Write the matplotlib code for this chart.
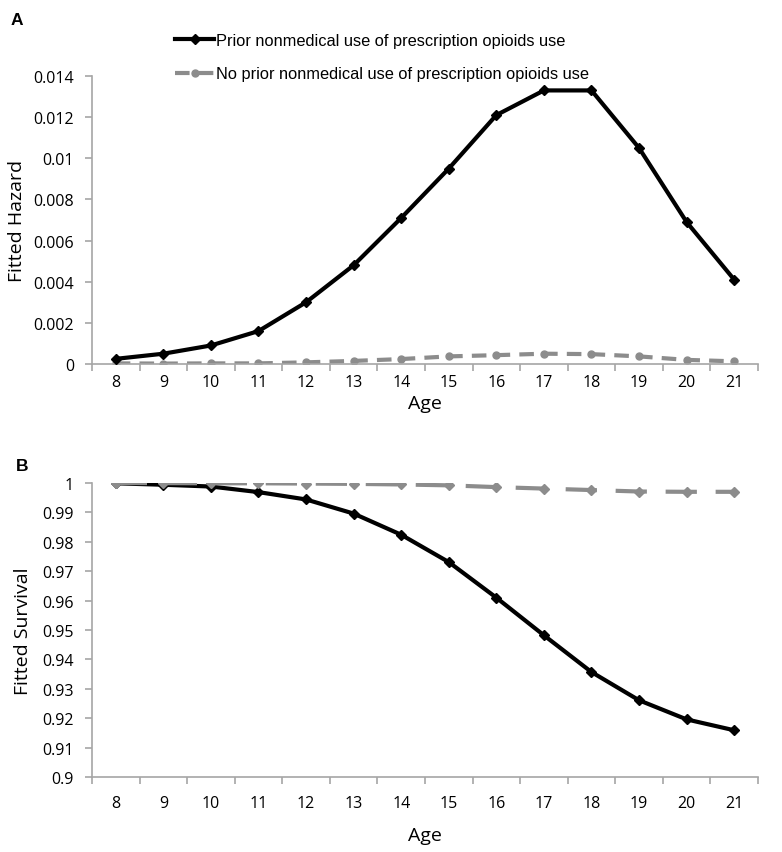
import numpy as np
import matplotlib.pyplot as plt
from matplotlib.ticker import FixedLocator, FuncFormatter

ages = [8, 9, 10, 11, 12, 13, 14, 15, 16, 17, 18, 19, 20, 21]

hazard_prior = [0.00025, 0.0005, 0.0009, 0.0016, 0.003, 0.0048, 0.0071,
                0.0095, 0.0121, 0.0133, 0.0133, 0.0105, 0.0069, 0.0041]
hazard_noprior = [0.00003, 0.00002, 0.00003, 0.00003, 0.00008, 0.00015, 0.00024,
                  0.00037, 0.00043, 0.0005, 0.00048, 0.00037, 0.0002, 0.00013]

surv_prior = [0.9999, 0.9994, 0.9988, 0.9969, 0.9944, 0.9896, 0.9824,
              0.9731, 0.9610, 0.9482, 0.9357, 0.9261, 0.9196, 0.9159]
surv_noprior = [1.0, 0.99995, 0.9999, 0.9999, 0.9998, 0.9997, 0.9995,
                0.9992, 0.9986, 0.9981, 0.9976, 0.9971, 0.9970, 0.9970]

label_prior = 'Prior nonmedical use of prescription opioids use'
label_noprior = 'No prior nonmedical use of prescription opioids use'

hazard_ticks = [0, 0.002, 0.004, 0.006, 0.008, 0.01, 0.012, 0.014]
surv_ticks = [0.9, 0.91, 0.92, 0.93, 0.94, 0.95, 0.96, 0.97, 0.98, 0.99, 1]

tick_font = ['Open Sans', 'DejaVu Sans']
axis_gray = '#a6a6a6'
dash_gray = '#8c8c8c'

fig = plt.figure(figsize=(7.82, 8.53), dpi=100)
axA = fig.add_axes([0.1176, 0.5721, 0.8517, 0.3376])
axB = fig.add_axes([0.1176, 0.0879, 0.8517, 0.3447])

x = np.arange(len(ages))


def style(ax, yticks, ylabel, fmt, xpad, xlab_y, ylab_x):
    ax.set_xlim(-0.5, len(ages) - 0.5)
    ax.set_ylim(yticks[0], yticks[-1])
    for s in ['top', 'right']:
        ax.spines[s].set_visible(False)
    for s in ['left', 'bottom']:
        ax.spines[s].set_color(axis_gray)
        ax.spines[s].set_linewidth(1.2)
    ax.set_xticks(x)
    ax.set_xticklabels([str(a) for a in ages], fontfamily=tick_font, fontsize=11.5)
    ax.xaxis.set_minor_locator(FixedLocator(np.arange(-0.5, len(ages), 1.0)))
    ax.tick_params(axis='x', which='major', length=0, pad=xpad)
    ax.tick_params(axis='x', which='minor', length=5, color=axis_gray, width=1.2)
    ax.set_yticks(yticks)
    ax.yaxis.set_major_formatter(FuncFormatter(fmt))
    ax.tick_params(axis='y', length=5, color=axis_gray, width=1.2, pad=8)
    for t in ax.get_yticklabels():
        t.set_fontfamily(tick_font)
        t.set_fontsize(11.5)
    ax.set_xlabel('Age', fontfamily=tick_font, fontsize=14)
    ax.xaxis.set_label_coords(0.5, xlab_y)
    ax.set_ylabel(ylabel, fontfamily=tick_font, fontsize=14, va='center')
    ax.yaxis.set_label_coords(ylab_x, 0.5)


def fmt_gen(v, pos):
    return ('%.3f' % v).rstrip('0').rstrip('.') if v != 0 else '0'


def fmt_surv(v, pos):
    return ('%.2f' % v).rstrip('0').rstrip('.')


la, = axA.plot(x, hazard_prior, color='black', lw=3, marker='D', ms=5,
               label=label_prior, zorder=3)
lb, = axA.plot(x, hazard_noprior, color=dash_gray, lw=3, marker='o', ms=5,
               dashes=(3.5, 2.2), label=label_noprior, zorder=2)
style(axA, hazard_ticks, 'Fitted Hazard', fmt_gen, 7.5, -0.104, -0.112)

axB.plot(x, surv_prior, color='black', lw=3, marker='D', ms=5, zorder=2)
axB.plot(x, surv_noprior, color=dash_gray, lw=3, marker='D', ms=5,
         dashes=(7.5, 4.5), zorder=3)
style(axB, surv_ticks, 'Fitted Survival', fmt_surv, 13, -0.167, -0.103)

fig.legend(handles=[la, lb], loc='upper left', bbox_to_anchor=(0.205, 0.978),
           frameon=False, handlelength=2.4, handletextpad=0.1, labelspacing=1.15,
           prop={'family': ['Liberation Sans Narrow', 'Liberation Sans'], 'size': 11.8})

fig.text(0.014, 0.985, 'A', fontsize=12.5, fontweight='bold',
         fontfamily=['Liberation Sans', 'DejaVu Sans'], va='top')
fig.text(0.02, 0.462, 'B', fontsize=12.5, fontweight='bold',
         fontfamily=['Liberation Sans', 'DejaVu Sans'], va='top')

fig.savefig('out.png', dpi=100)
